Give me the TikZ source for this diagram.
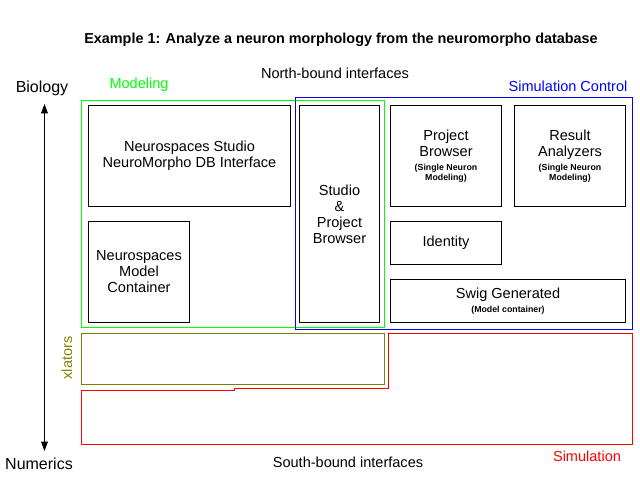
\documentclass[tikz,border=0pt]{standalone}
\usepackage{fontspec}
\setmainfont{Liberation Sans}
\usetikzlibrary{arrows.meta}
\definecolor{mgreen}{HTML}{00FF00}
\definecolor{mblue}{HTML}{0000FF}
\definecolor{mred}{HTML}{FF0000}
\definecolor{molive}{HTML}{808000}
\tikzset{
  box/.style={draw=black, line width=0.75pt, inner sep=0pt, align=center, font=\fontsize{10.9}{12}\selectfont},
  frame/.style={draw, line width=0.75pt, inner sep=0pt},
  lbl/.style={inner sep=0pt, font=\fontsize{10.9}{12}\selectfont},
  biglbl/.style={inner sep=0pt, font=\fontsize{12}{14}\selectfont},
}
\newcommand{\smalltxt}[1]{{\fontsize{6.6}{7.5}\selectfont\bfseries #1}}
\begin{document}
\begin{tikzpicture}[x=0.75pt,y=-0.75pt]
\useasboundingbox (0,0) rectangle (640,480);
% title
\node[inner sep=0pt, font=\fontsize{10.8}{12}\selectfont\bfseries] (title) at (341,40) {Example 1: Analyze a neuron morphology from the neuromorpho database};
% axis labels
\node[biglbl] (bio) at (42,88) {Biology};
\node[biglbl] (num) at (39,464) {Numerics};
\coordinate (atop) at (44.5,104);
\coordinate (abot) at (44.5,451);
\draw[line width=0.75pt, {Triangle[length=7pt,width=5pt]}-{Triangle[length=7pt,width=5pt]}] (atop) -- (abot);
% frames
\node[frame, draw=mgreen, minimum width=227.25pt, minimum height=170.25pt] (green) at (233,214) {};
\node[frame, draw=mblue, minimum width=252.75pt, minimum height=174pt] (blue) at (464,213.5) {};
\node[frame, draw=molive, minimum width=227.25pt, minimum height=38.25pt] (olive) at (233,359) {};
\draw[mred, line width=0.75pt] (387.5,333.5) -- (632.5,333.5) -- (632.5,444.5) -- (81.5,444.5) -- (81.5,390.5) -- (234.5,390.5) -- (234.5,388.5) -- (388.5,388.5) -- (388.5,333.5) -- cycle;
% labels
\node[lbl, text=mgreen] (modeling) at (139,85) {Modeling};
\node[lbl] (north) at (335,73) {North-bound interfaces};
\node[lbl, text=mblue] (simctl) at (568,86) {Simulation Control};
\node[lbl, text=molive, rotate=90] (xlators) at (67,358) {xlators};
\node[lbl] (south) at (348,462) {South-bound interfaces};
\node[lbl, text=mred] (sim) at (587,456) {Simulation};
% boxes
\node[box, minimum width=151.5pt, minimum height=75.75pt] (studio) at (189.5,156) {Neurospaces Studio\\NeuroMorpho DB Interface};
\node[box, minimum width=75.75pt, minimum height=75.75pt] (model) at (139,272) {Neurospaces\\Model\\Container};
\node[box, minimum width=60pt, minimum height=162.75pt] (spb) at (339.5,214) {Studio\\\&\\Project\\Browser};
\node[box, minimum width=83.25pt, minimum height=75.75pt] (pb) at (446,156) {Project\\Browser\\[-2pt]\smalltxt{(Single Neuron}\\[-4.5pt]\smalltxt{Modeling)}};
\node[box, minimum width=83.25pt, minimum height=75.75pt] (ra) at (570,156) {Result\\Analyzers\\[-2pt]\smalltxt{(Single Neuron}\\[-4.5pt]\smalltxt{Modeling)}};
\node[box, minimum width=83.25pt, minimum height=32.25pt] (identity) at (446,243) {Identity};
\node[box, minimum width=176.25pt, minimum height=32.25pt] (swig) at (508,301) {Swig Generated\\[-2pt]\smalltxt{(Model container)}};
\end{tikzpicture}
\end{document}
